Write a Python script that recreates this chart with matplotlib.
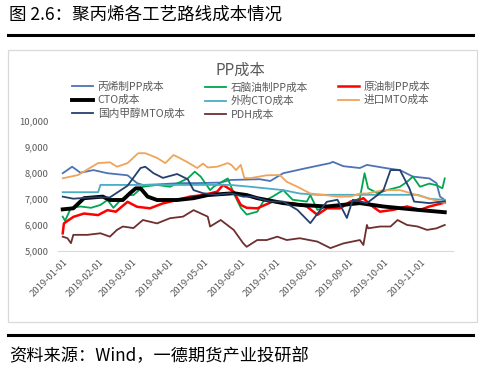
import matplotlib
matplotlib.use("Agg")
import matplotlib.pyplot as plt
import matplotlib.dates as mdates
import pandas as pd
from matplotlib.lines import Line2D
from matplotlib.patches import Rectangle
from matplotlib.ticker import FuncFormatter

plt.rcParams["font.family"] = ["Noto Sans CJK SC", "DejaVu Sans"]

# ---- data (yuan/ton) ----
propylene_dates = ["2019-01-01", "2019-01-09", "2019-01-16", "2019-01-27", "2019-02-08",
                   "2019-02-25", "2019-03-05", "2019-03-10", "2019-03-22", "2019-04-11",
                   "2019-04-25", "2019-05-15", "2019-05-23", "2019-06-17", "2019-06-26",
                   "2019-07-07", "2019-07-27", "2019-08-16", "2019-08-18", "2019-08-27",
                   "2019-09-10", "2019-09-16", "2019-10-03", "2019-10-14", "2019-10-25",
                   "2019-11-08", "2019-11-14", "2019-11-17", "2019-11-21"]
propylene_vals = [7980, 8230, 8000, 8100, 7980, 7900, 7600, 7530, 7550, 7600,
                  7600, 7620, 7720, 7750, 7680, 7980, 8180, 8370, 8420, 8250,
                  8180, 8300, 8170, 8100, 7850, 7780, 7600, 7080, 6950]

naphtha_dates = ["2019-01-01", "2019-01-03", "2019-01-08", "2019-01-16", "2019-01-25",
                 "2019-02-02", "2019-02-08", "2019-02-13", "2019-02-19", "2019-02-25",
                 "2019-03-02", "2019-03-10", "2019-03-22", "2019-04-02", "2019-04-11",
                 "2019-04-17", "2019-04-23", "2019-04-28", "2019-05-06", "2019-05-09",
                 "2019-05-21", "2019-05-26", "2019-06-01", "2019-06-06", "2019-06-15",
                 "2019-06-20", "2019-06-28", "2019-07-07", "2019-07-15", "2019-07-27",
                 "2019-07-30", "2019-08-05", "2019-08-13", "2019-08-24", "2019-09-02",
                 "2019-09-10", "2019-09-14", "2019-09-17", "2019-09-25", "2019-10-03",
                 "2019-10-14", "2019-10-20", "2019-10-25", "2019-10-31", "2019-11-08",
                 "2019-11-14", "2019-11-19", "2019-11-21"]
naphtha_vals = [6310, 6150, 6650, 6700, 6650, 6760, 6950, 6650, 6950, 7140,
                7140, 7460, 7530, 7460, 7650, 7780, 8040, 7850, 7330, 7460,
                7780, 7210, 6650, 6390, 6500, 6890, 7080, 7330, 6960, 6890,
                7140, 6570, 6700, 6630, 6830, 7020, 7980, 7400, 7210, 7330,
                7460, 7650, 7850, 7460, 7580, 7520, 7400, 7780]

crude_dates = ["2019-01-01", "2019-01-02", "2019-01-10", "2019-01-19", "2019-01-31",
               "2019-02-08", "2019-02-15", "2019-02-25", "2019-03-05", "2019-03-16",
               "2019-03-27", "2019-04-08", "2019-04-19", "2019-04-30", "2019-05-12",
               "2019-05-17", "2019-05-26", "2019-06-01", "2019-06-06", "2019-06-15",
               "2019-06-28", "2019-07-07", "2019-07-15", "2019-07-27", "2019-08-05",
               "2019-08-13", "2019-08-24", "2019-09-02", "2019-09-10", "2019-09-13",
               "2019-09-19", "2019-09-27", "2019-10-08", "2019-10-20", "2019-10-31",
               "2019-11-08", "2019-11-21"]
crude_vals = [5670, 6050, 6300, 6430, 6370, 6560, 6500, 6880, 6690, 6630,
              6820, 6950, 7080, 7140, 7270, 7530, 7270, 6760, 6650, 6630,
              6890, 6830, 6830, 6700, 6380, 6630, 6630, 6890, 6960, 7020,
              6760, 6500, 6570, 6700, 6570, 6700, 6850]

cto_dates = ["2019-01-01", "2019-01-10", "2019-01-19", "2019-02-04", "2019-02-10",
             "2019-02-21", "2019-02-27", "2019-03-04", "2019-03-08", "2019-03-14",
             "2019-03-22", "2019-04-08", "2019-04-22", "2019-05-04", "2019-05-26",
             "2019-06-06", "2019-06-15", "2019-07-07", "2019-07-21", "2019-08-13",
             "2019-09-10", "2019-09-30", "2019-10-29", "2019-11-21"]
cto_vals = [6590, 6630, 7020, 7080, 6950, 6950, 7210, 7400, 7400, 7080,
            6950, 6950, 7020, 7140, 7210, 7140, 7020, 6830, 6760, 6700,
            6830, 6700, 6570, 6480]

bought_cto_dates = ["2019-01-01", "2019-01-31", "2019-02-02", "2019-05-23", "2019-06-09",
                    "2019-07-07", "2019-07-21", "2019-08-05", "2019-09-10", "2019-10-29",
                    "2019-11-08", "2019-11-21"]
bought_cto_vals = [7250, 7250, 7530, 7530, 7460, 7330, 7200, 7150, 7150, 7150,
                   7000, 6950]

import_mto_dates = ["2019-01-01", "2019-01-14", "2019-01-31", "2019-02-10", "2019-02-16",
                    "2019-02-25", "2019-03-06", "2019-03-12", "2019-03-22", "2019-03-29",
                    "2019-04-05", "2019-04-08", "2019-04-17", "2019-04-25", "2019-04-30",
                    "2019-05-04", "2019-05-12", "2019-05-21", "2019-05-24", "2019-05-28",
                    "2019-06-01", "2019-06-04", "2019-06-09", "2019-06-23", "2019-07-04",
                    "2019-07-10", "2019-07-19", "2019-07-30", "2019-08-10", "2019-08-22",
                    "2019-09-02", "2019-09-10", "2019-09-16", "2019-09-30", "2019-10-14",
                    "2019-10-24", "2019-11-08", "2019-11-21"]
import_mto_vals = [7785, 7910, 8370, 8400, 8230, 8370, 8750, 8750, 8570, 8370,
                   8680, 8615, 8400, 8180, 8350, 8200, 8230, 8370, 8300, 8100,
                   8300, 7800, 7790, 7900, 7910, 7650, 7460, 7200, 7150, 7080,
                   7080, 7200, 7200, 7330, 7330, 7200, 7000, 6830]

methanol_mto_dates = ["2019-01-01", "2019-01-10", "2019-01-25", "2019-02-10", "2019-02-25",
                      "2019-03-08", "2019-03-12", "2019-03-19", "2019-03-27", "2019-04-08",
                      "2019-04-17", "2019-04-22", "2019-04-30", "2019-05-12", "2019-05-23",
                      "2019-06-03", "2019-06-11", "2019-06-26", "2019-07-07", "2019-07-19",
                      "2019-07-30", "2019-08-07", "2019-08-13", "2019-08-22", "2019-08-30",
                      "2019-09-04", "2019-09-16", "2019-09-25", "2019-09-30", "2019-10-06",
                      "2019-10-14", "2019-10-22", "2019-10-26", "2019-11-08", "2019-11-21"]
methanol_mto_vals = [7080, 7000, 7050, 7050, 7500, 8180, 8230, 7980, 7800, 7950,
                     7750, 7330, 7210, 7150, 7210, 7080, 7080, 6890, 6890, 6570,
                     6060, 6540, 6880, 6960, 6260, 6960, 6830, 7140, 7330, 8100,
                     8100, 7400, 6890, 6830, 6900]

pdh_dates = ["2019-01-01", "2019-01-05", "2019-01-08", "2019-01-10", "2019-01-22",
             "2019-02-02", "2019-02-10", "2019-02-16", "2019-02-21", "2019-03-02",
             "2019-03-10", "2019-03-22", "2019-04-02", "2019-04-13", "2019-04-22",
             "2019-05-04", "2019-05-06", "2019-05-15", "2019-05-26", "2019-06-03",
             "2019-06-06", "2019-06-15", "2019-06-23", "2019-07-02", "2019-07-10",
             "2019-07-21", "2019-08-05", "2019-08-16", "2019-08-27", "2019-09-10",
             "2019-09-13", "2019-09-16", "2019-09-17", "2019-09-27", "2019-10-06",
             "2019-10-12", "2019-10-20", "2019-10-29", "2019-11-06", "2019-11-14",
             "2019-11-21"]
pdh_vals = [5540, 5480, 5290, 5610, 5610, 5670, 5540, 5800, 5930, 5870,
            6180, 6050, 6250, 6310, 6560, 6310, 5930, 6180, 5800, 5290,
            5150, 5410, 5410, 5540, 5410, 5480, 5350, 5100, 5280, 5410,
            5220, 5990, 5860, 5930, 5930, 6180, 5990, 5930, 5800, 5860,
            5990]

month_ticks = ["2019-01-01", "2019-02-01", "2019-03-01", "2019-04-01", "2019-05-01",
               "2019-06-01", "2019-07-01", "2019-08-01", "2019-09-01", "2019-10-01",
               "2019-11-01"]
y_ticks = [5000, 6000, 7000, 8000, 9000, 10000]

# (label, dates, values, colour, width)
SERIES = [
    ("丙烯制PP成本", propylene_dates, propylene_vals, "#4E73B4", 1.3),
    ("石脑油制PP成本", naphtha_dates, naphtha_vals, "#00A650", 1.3),
    ("原油制PP成本", crude_dates, crude_vals, "#FF0000", 1.8),
    ("CTO成本", cto_dates, cto_vals, "#000000", 2.8),
    ("外购CTO成本", bought_cto_dates, bought_cto_vals, "#4BACC6", 1.3),
    ("进口MTO成本", import_mto_dates, import_mto_vals, "#F0A45A", 1.3),
    ("国内甲醇MTO成本", methanol_mto_dates, methanol_mto_vals, "#25406E", 1.3),
    ("PDH成本", pdh_dates, pdh_vals, "#6E2F2F", 1.3),
]
TICK_GREY = "#595959"

fig = plt.figure(figsize=(4.85, 3.75), dpi=100)
W, H = 485, 375

ax = fig.add_axes([58 / W, 1 - 250.7 / H, 395 / W, 130 / H])
handles = {}
for name, ds, vs, col, lw in SERIES:
    (ln,) = ax.plot(pd.to_datetime(ds), vs, color=col, lw=lw, label=name,
                    solid_joinstyle="round")
    handles[name] = ln

ax.set_ylim(5000, 10000)
ax.set_xlim(pd.Timestamp("2018-12-28"), pd.Timestamp("2019-11-28"))
ax.set_yticks(y_ticks)
ax.yaxis.set_major_formatter(FuncFormatter(lambda v, _: f"{int(v):,}"))
ax.set_xticks(pd.to_datetime(month_ticks))
ax.xaxis.set_major_formatter(mdates.DateFormatter("%Y-%m-%d"))
for lab in ax.get_xticklabels():
    lab.set_rotation(45)
    lab.set_ha("right")
    lab.set_rotation_mode("anchor")
ax.tick_params(axis="both", length=0, labelsize=6.8, labelcolor=TICK_GREY)
ax.tick_params(axis="y", pad=7)
ax.tick_params(axis="x", pad=5)
for side in ("top", "right", "left"):
    ax.spines[side].set_visible(False)
ax.spines["bottom"].set_color("#D9D9D9")
ax.spines["bottom"].set_linewidth(0.8)
ax.patch.set_alpha(0)

# chart title + legend (three columns, row-major order)
fig.text(240 / W, 1 - 70 / H, "PP成本", ha="center", va="center",
         fontsize=11, color=TICK_GREY)
columns = [
    (72, ["丙烯制PP成本", "CTO成本", "国内甲醇MTO成本"]),
    (205, ["石脑油制PP成本", "外购CTO成本", "PDH成本"]),
    (338, ["原油制PP成本", "进口MTO成本"]),
]
for x0, names in columns:
    leg = fig.legend(handles=[handles[n] for n in names], loc="upper left",
                     bbox_to_anchor=(x0 / W, 1 - 82 / H), frameon=False,
                     fontsize=7.7, handlelength=2.0, handletextpad=0.4,
                     labelspacing=0.28, borderpad=0, borderaxespad=0)
    for t in leg.get_texts():
        t.set_color(TICK_GREY)

# report frame: heading, rules, chart border, source note
fig.text(9 / W, 1 - 15 / H, "图 2.6：聚丙烯各工艺路线成本情况", ha="left",
         va="center", fontsize=12.6, color="#000000")
fig.add_artist(Line2D([8 / W, 473 / W], [1 - 35 / H] * 2, color="black", lw=2.2))
fig.add_artist(Line2D([8 / W, 473 / W], [1 - 335 / H] * 2, color="black", lw=2.2))
fig.add_artist(Rectangle((8 / W, 1 - 322 / H), 469 / W, 272 / H, fill=False,
                         edgecolor="#D9D9D9", lw=0.9))
fig.text(9 / W, 1 - 356 / H, "资料来源：Wind，一德期货产业投研部", ha="left",
         va="center", fontsize=12.4, color="#000000")

fig.savefig("out.png", dpi=100)
